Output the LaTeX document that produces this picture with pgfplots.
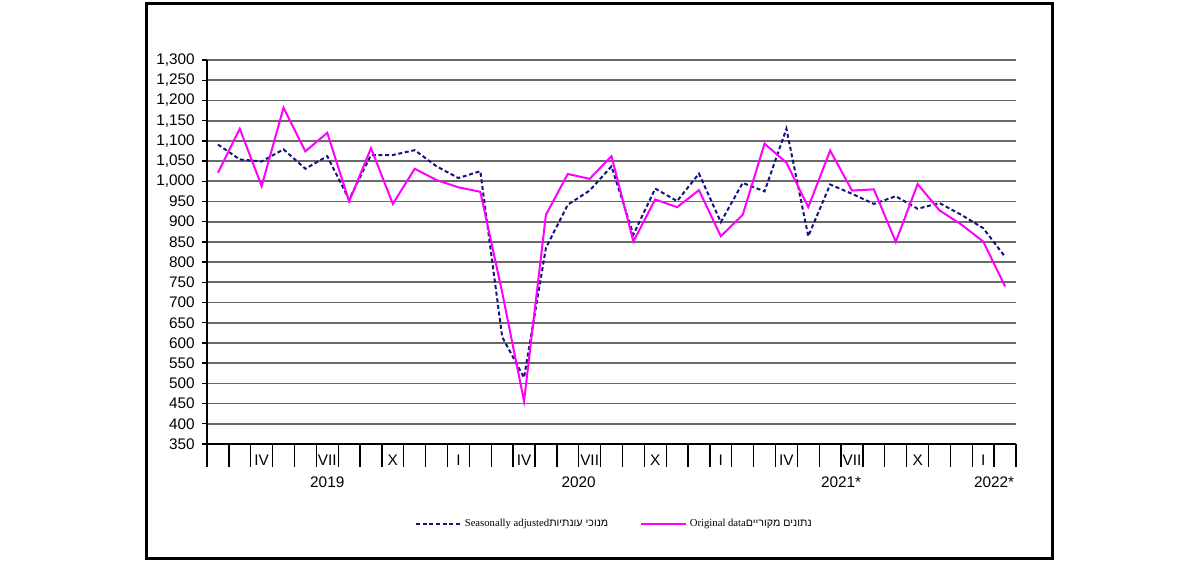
\documentclass[border=0pt]{standalone}
\usepackage{fontspec}
\setmainfont{Liberation Sans}
\newfontfamily\legfont{Liberation Serif}
\newfontfamily\hebfont[Script=Hebrew]{Liberation Sans}
\TeXXeTstate=1
\usepackage{pgfplots}
\pgfplotsset{compat=1.18}
\definecolor{sanavy}{RGB}{20,20,128}
\definecolor{origmag}{RGB}{255,0,255}
\definecolor{gridgray}{RGB}{105,105,105}
\begin{document}
\begin{tikzpicture}
\useasboundingbox (0,0) rectangle (900pt,421.5pt);
\fill[white] (0,0) rectangle (900pt,421.5pt);
\draw[line width=2.6pt] (110pt,2.6pt) rectangle (789.4pt,418.9pt);
\begin{axis}[
  at={(155.25pt,88.5pt)}, anchor=south west,
  scale only axis, width=606.75pt, height=288pt,
  xmin=-0.5, xmax=36.5, ymin=350, ymax=1300,
  axis x line*=bottom, axis y line*=left,
  axis line style={black, line width=1pt, -},
  clip=false,
  tick align=outside,
  ytick={350,400,...,1300},
  ymajorgrids, grid style={gridgray, line width=1.3pt},
  ytick style={black, line width=1pt},
  major tick length=3.75pt,
  yticklabel style={font=\fontsize{11.5}{12}\selectfont, xshift=-2pt},
  /pgf/number format/assume math mode=true,
  /pgf/number format/.cd, 1000 sep={,}, /pgfplots/.cd,
  xtick={0,...,36},
  xticklabels={,,IV,,,VII,,,X,,,I,,,IV,,,VII,,,X,,,I,,,IV,,,VII,,,X,,,I,},
  xticklabel style={font=\fontsize{11.5}{12}\selectfont, anchor=center, yshift=-8.5pt},
  x tick style={draw=none},
  minor xtick={-0.5,0.5,...,36.5},
  minor tick length=17.25pt,
  minor x tick style={black, line width=1pt, draw=black},
  extra x ticks={-0.5,10.5,22.5,34.5,36.5},
  extra x tick labels={},
  extra x tick style={major tick length=35.25pt, tick style={black, line width=1pt, draw=black}},
  legend style={at={(0.504,-0.208)}, anchor=center, draw=none, fill=none,
    legend columns=2, font=\fontsize{8}{9}\selectfont,
    /tikz/every even column/.append style={column sep=22pt}},
  legend image code/.code={\draw[#1] (0pt,0pt) -- (33.75pt,0pt);},
]
\addplot[sanavy, line width=1.5pt, dash pattern=on 3pt off 2pt] coordinates {
(0,1091) (1,1054) (2,1049) (3,1079) (4,1031) (5,1062) (6,955) (7,1065) (8,1065)
(9,1077) (10,1037) (11,1008) (12,1025) (13,615) (14,514) (15,835) (16,942) (17,977)
(18,1037) (19,868) (20,982) (21,951) (22,1019) (23,899) (24,996) (25,975) (26,1130)
(27,864) (28,992) (29,969) (30,944) (31,963) (32,932) (33,946) (34,917) (35,884) (36,813)
};
\addlegendentry{\legfont Seasonally adjusted\hebfont\beginR עונתיות\endR\ \beginR מנוכי\endR}
\addplot[origmag, line width=1.5pt] coordinates {
(0,1021) (1,1130) (2,988) (3,1182) (4,1074) (5,1120) (6,950) (7,1082) (8,944)
(9,1031) (10,1003) (11,985) (12,974) (13,725) (14,456) (15,917) (16,1018) (17,1006)
(18,1062) (19,851) (20,955) (21,936) (22,978) (23,864) (24,917) (25,1093) (26,1046)
(27,936) (28,1076) (29,977) (30,980) (31,850) (32,993) (33,928) (34,893) (35,851) (36,740)
};
\addlegendentry{\legfont Original data\hebfont\beginR מקוריים\endR\ \beginR נתונים\endR}
\node[font=\fontsize{11.5}{12}\selectfont] at (axis cs:5,350) [yshift=-28.5pt] {2019};
\node[font=\fontsize{11.5}{12}\selectfont] at (axis cs:16.5,350) [yshift=-28.5pt] {2020};
\node[font=\fontsize{11.5}{12}\selectfont] at (axis cs:28.5,350) [yshift=-28.5pt] {2021*};
\node[font=\fontsize{11.5}{12}\selectfont] at (axis cs:35.5,350) [yshift=-28.5pt] {2022*};
\end{axis}
\end{tikzpicture}
\end{document}
